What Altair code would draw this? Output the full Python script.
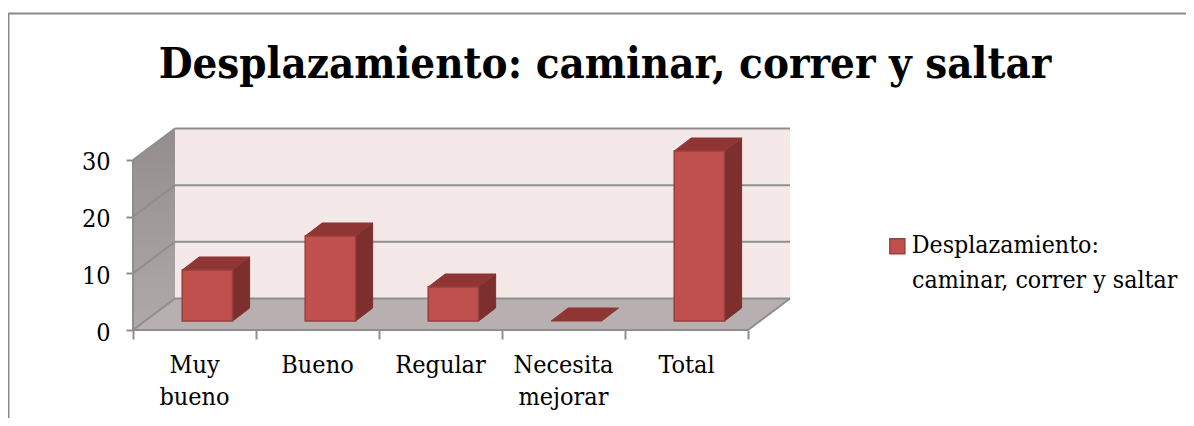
import altair as alt
import pandas as pd

categories = ["Muy bueno", "Bueno", "Regular", "Necesita mejorar", "Total"]
label_lines = [["Muy", "bueno"], ["Bueno"], ["Regular"], ["Necesita", "mejorar"], ["Total"]]
values = [9, 15, 6, 0, 30]
series_name = "Desplazamiento: caminar, correr y saltar"
y_ticks = [0, 10, 20, 30]
title_text = "Desplazamiento: caminar, correr y saltar"

FONT = "DejaVu Serif Condensed"
WALL_DX, WALL_DY = 42 / 123, 31.5 / 5.667
BAR_X0, BAR_W = 0.40, 0.41
BAR_LIFT = 9 / 5.667
BAR_DX, BAR_DY = 17 / 123, 13 / 5.667
N = len(categories)
GRID = "#8e8e8e"

xs = alt.Scale(domain=[0, 658 / 123], nice=False, zero=False)
ys = alt.Scale(domain=[0, 201 / 5.667], nice=False, zero=False)
x_axis = alt.Axis(values=list(range(N + 1)), labels=False, title=None, domain=False, grid=False,
                  tickSize=9, tickColor=GRID, tickWidth=2)
y_axis = alt.Axis(values=y_ticks, title=None, domain=False, grid=False, tickSize=7, tickColor=GRID,
                  tickWidth=2, labelFont=FONT, labelFontSize=25, labelColor="#000", labelPadding=16, labelOffset=2)
X = lambda f="x": alt.X(f, type="quantitative", scale=xs, axis=x_axis)
Y = lambda f="y": alt.Y(f, type="quantitative", scale=ys, axis=y_axis)

one = pd.DataFrame({"a": [0]})

# frame
frame_top = alt.Chart(one).mark_rule(color="#8a8a8a", strokeWidth=2).encode(
    x=alt.value(-124.5), x2=alt.value(1053), y=alt.value(-115.5))
frame_left = alt.Chart(one).mark_rule(color="#8a8a8a", strokeWidth=2).encode(
    x=alt.value(-124.5), y=alt.value(-116), y2=alt.value(289))

# walls
left_wall = alt.Chart(pd.DataFrame({"x": [0, WALL_DX], "y": [0, WALL_DY], "y2": [30, 30 + WALL_DY]})).mark_area(
    color=alt.LinearGradient(gradient="linear", x1=0, y1=0, x2=0, y2=1,
                             stops=[alt.GradientStop(offset=0, color="#938d8d"),
                                    alt.GradientStop(offset=1, color="#b0a9a9")]),
).encode(x=X(), y=Y(), y2="y2")
back_wall = alt.Chart(pd.DataFrame({"x": [WALL_DX], "x2": [N + WALL_DX], "y": [WALL_DY], "y2": [30 + WALL_DY]})).mark_rect(
    color="#f4e8e8").encode(x=X(), x2="x2", y=Y(), y2="y2")
floor = alt.Chart(pd.DataFrame({"y": [0, WALL_DY], "x": [0, WALL_DX], "x2": [N, N + WALL_DX]})).mark_area(
    orient="horizontal", color="#b8b0b0").encode(y=Y(), x=X(), x2="x2")

# grid on walls
grid_v = y_ticks
back_lines = alt.Chart(pd.DataFrame({"x": [WALL_DX] * 4, "x2": [N + WALL_DX] * 4, "y": [v + WALL_DY for v in grid_v]})).mark_rule(
    color=GRID, strokeWidth=2).encode(x=X(), x2="x2", y=Y())
diag = pd.DataFrame(
    [{"g": v, "x": 0, "y": v} for v in grid_v] + [{"g": v, "x": WALL_DX, "y": v + WALL_DY} for v in grid_v]
)
diag_lines = alt.Chart(diag).mark_line(color=GRID, strokeWidth=2).encode(x=X(), y=Y(), detail="g:N")
front_left = alt.Chart(pd.DataFrame({"x": [0], "y": [0], "y2": [30]})).mark_rule(color=GRID, strokeWidth=2).encode(
    x=X(), y=Y(), y2="y2")
front_base = alt.Chart(pd.DataFrame({"x": [0], "x2": [N], "y": [0]})).mark_rule(color=GRID, strokeWidth=2).encode(
    x=X(), x2="x2", y=Y())
right_edge = alt.Chart(pd.DataFrame({"x": [N, N + WALL_DX], "y": [0, WALL_DY]})).mark_line(color=GRID, strokeWidth=2).encode(
    x=X(), y=Y())

# bars
rows_side, rows_top, rows_front = [], [], []
for i, (c, v) in enumerate(zip(categories, values)):
    x0 = i + BAR_X0
    x1 = x0 + BAR_W
    rows_front.append({"c": c, "x": x0, "x2": x1, "y": BAR_LIFT, "y2": BAR_LIFT + v, "series": series_name})
    rows_side.append({"c": c, "x": x1, "y": BAR_LIFT, "y2": BAR_LIFT + v})
    rows_side.append({"c": c, "x": x1 + BAR_DX, "y": BAR_LIFT + BAR_DY, "y2": BAR_LIFT + v + BAR_DY})
    rows_top.append({"c": c, "y": BAR_LIFT + v, "x": x0, "x2": x1})
    rows_top.append({"c": c, "y": BAR_LIFT + v + BAR_DY, "x": x0 + BAR_DX, "x2": x1 + BAR_DX})

side = alt.Chart(pd.DataFrame(rows_side)).transform_filter("datum.y2 - datum.y > 0").mark_area(
    color="#7d2f2d", stroke="#7d2f2d", strokeWidth=1).encode(x=X(), y=Y(), y2="y2", detail="c:N")
top = alt.Chart(pd.DataFrame(rows_top)).mark_area(
    orient="horizontal", color="#8f3634", stroke="#8f3634", strokeWidth=1).encode(y=Y(), x=X(), x2="x2", detail="c:N")
legend = alt.Legend(
    title=None, orient="none", legendX=752, legendY=105, symbolType="square", symbolSize=225,
    symbolStrokeColor="#973f3c", symbolStrokeWidth=1.5, labelFont=FONT, labelFontSize=24.7, labelColor="#000",
    labelLimit=400, labelExpr="'Desplazamiento:'", labelOffset=2,
)
front = alt.Chart(pd.DataFrame(rows_front)).transform_filter("datum.y2 > datum.y").mark_rect(
    stroke="#973f3c", strokeWidth=1.5).encode(
    x=X(), x2="x2", y=Y(), y2="y2",
    color=alt.Color("series:N", scale=alt.Scale(domain=[series_name], range=["#c0504d"]), legend=legend))
legend_line2 = alt.Chart(one).mark_text(font=FONT, fontSize=24.7, align="left", baseline="alphabetic", color="#000").encode(
    x=alt.value(779), y=alt.value(158.7), text=alt.value("caminar, correr y saltar"))

# category labels
labels = pd.DataFrame({"x": [i + 0.5 for i in range(N)], "t": label_lines})
cat_text = alt.Chart(labels).mark_text(font=FONT, fontSize=25, baseline="top", align="center", color="#000",
                                       lineHeight=32).encode(
    x=X(), y=alt.value(224), text="t")

chart = alt.layer(
    frame_top, frame_left, left_wall, back_wall, floor, back_lines, diag_lines, front_left, right_edge, front_base,
    side, top, front, cat_text, legend_line2,
).properties(
    width=658, height=201,
    title=alt.TitleParams(title_text, font=FONT, fontSize=43.4, fontWeight="bold", color="#000",
                          anchor="middle", frame="group", dx=143, dy=75, offset=0),
    padding={"left": 125, "top": 121, "right": 395, "bottom": 88},
    autosize=alt.AutoSizeParams(type="none"),
).configure_view(stroke=None)

chart.save("out.html", embed_options={"renderer": "svg", "actions": False})
